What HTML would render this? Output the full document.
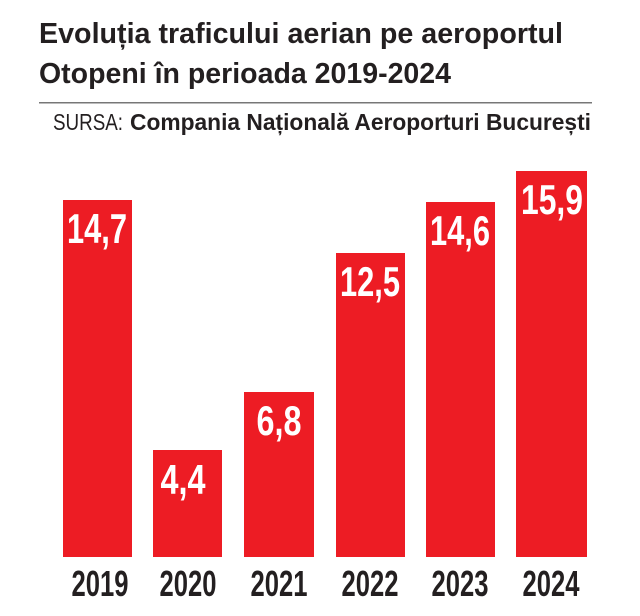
<!DOCTYPE html>
<html><head><meta charset="utf-8"><style>html,body{margin:0;padding:0;background:#fff}svg{display:block}</style></head>
<body>
<svg width="640" height="616" viewBox="0 0 640 616" xmlns="http://www.w3.org/2000/svg" font-family="Liberation Sans, sans-serif">
<text x="39" y="43" font-size="29" font-weight="bold" fill="#231f20" textLength="524" lengthAdjust="spacingAndGlyphs">Evoluția traficului aerian pe aeroportul</text>
<text x="39" y="83" font-size="29" font-weight="bold" fill="#231f20" textLength="412" lengthAdjust="spacingAndGlyphs">Otopeni în perioada 2019-2024</text>
<rect x="39" y="102" width="553" height="1.5" fill="#777"/>
<text x="53" y="130" font-size="23" fill="#231f20" textLength="70" lengthAdjust="spacingAndGlyphs">SURSA:</text>
<text x="130" y="130" font-size="23" font-weight="bold" fill="#231f20" textLength="461" lengthAdjust="spacingAndGlyphs">Compania Națională Aeroporturi București</text>
<g fill="#ed1c24">
<rect x="63" y="200" width="69" height="357"/>
<rect x="153" y="450" width="69" height="107"/>
<rect x="244" y="392" width="70" height="165"/>
<rect x="336" y="253" width="69" height="304"/>
<rect x="426" y="202" width="69" height="355"/>
<rect x="516" y="171" width="71" height="386"/>
</g>
<g fill="#fff" font-size="42" font-weight="bold" text-anchor="middle" lengthAdjust="spacingAndGlyphs">
<text x="97" y="243" textLength="60" lengthAdjust="spacingAndGlyphs">14,7</text>
<text x="183" y="494" textLength="45" lengthAdjust="spacingAndGlyphs">4,4</text>
<text x="279" y="435" textLength="45" lengthAdjust="spacingAndGlyphs">6,8</text>
<text x="370" y="296" textLength="60" lengthAdjust="spacingAndGlyphs">12,5</text>
<text x="460" y="245" textLength="60" lengthAdjust="spacingAndGlyphs">14,6</text>
<text x="552" y="214" textLength="62" lengthAdjust="spacingAndGlyphs">15,9</text>
</g>
<g fill="#231f20" font-size="36" font-weight="bold" text-anchor="middle">
<text x="100" y="596" textLength="57" lengthAdjust="spacingAndGlyphs">2019</text>
<text x="188" y="596" textLength="57" lengthAdjust="spacingAndGlyphs">2020</text>
<text x="279" y="596" textLength="57" lengthAdjust="spacingAndGlyphs">2021</text>
<text x="370" y="596" textLength="57" lengthAdjust="spacingAndGlyphs">2022</text>
<text x="460" y="596" textLength="57" lengthAdjust="spacingAndGlyphs">2023</text>
<text x="551" y="596" textLength="57" lengthAdjust="spacingAndGlyphs">2024</text>
</g>
</svg>
</body></html>
